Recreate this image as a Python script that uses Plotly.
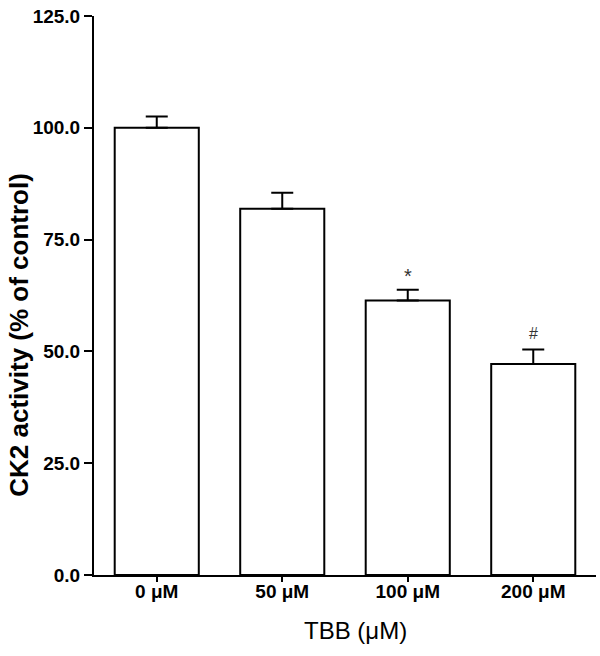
import plotly.graph_objects as go

categories = ["0 μM", "50 μM", "100 μM", "200 μM"]
means = [100.0, 81.9, 61.4, 47.2]
errors = [2.5, 3.6, 2.4, 3.2]
marks = ["", "", "*", "#"]
mark_sizes = [0, 0, 20, 16]
mark_shifts = [0, 0, 1, 6]
y_ticks = [0, 25, 50, 75, 100, 125]

fig = go.Figure()
fig.add_trace(go.Bar(
    x=categories, y=means,
    marker=dict(color="white", line=dict(color="black", width=2)),
    width=0.67,
    error_y=dict(type="data", array=errors, arrayminus=[0]*len(errors),
                 symmetric=False, color="black", thickness=2, width=11),
    showlegend=False,
))

for c, m, e, s, fs, sh in zip(categories, means, errors, marks, mark_sizes, mark_shifts):
    if s:
        fig.add_annotation(x=c, y=m + e, text=s, showarrow=False,
                           yanchor="bottom", yshift=sh,
                           font=dict(family="Arial", size=fs, color="#333"))

fig.add_annotation(text="<b>CK2 activity (% of control)</b>", textangle=-90,
                   xref="paper", yref="paper", x=-0.1500, y=0.4293,
                   xanchor="center", yanchor="middle", showarrow=False,
                   font=dict(family="Arial", size=26, color="black"))
fig.add_annotation(text="TBB (μM)",
                   xref="paper", yref="paper", x=0.52, y=-0.0993,
                   xanchor="center", yanchor="middle", showarrow=False,
                   font=dict(family="Arial", size=24, color="black"))

fig.update_layout(
    width=600, height=656,
    margin=dict(l=94, r=4, t=16, b=81),
    plot_bgcolor="white", paper_bgcolor="white",
    font=dict(family="Arial", color="black"),
    bargap=0.33,
)
fig.update_yaxes(
    range=[0, 125], tickvals=y_ticks, ticktext=[f"<b>{v:.1f}</b>" for v in y_ticks],
    showline=True, linecolor="black", linewidth=2,
    ticks="outside", ticklen=8, tickwidth=2, tickcolor="black",
    showgrid=False, zeroline=False, automargin=False,
    ticklabeloverflow="allow",
    tickfont=dict(family="Arial", size=19, color="black"),
)
fig.update_xaxes(
    showline=True, linecolor="black", linewidth=2,
    ticks="outside", ticklen=5, tickwidth=2, tickcolor="black",
    showgrid=False, automargin=False, ticklabelstandoff=-7,
    tickvals=categories, ticktext=[f"<b>{c}</b>" for c in categories],
    tickfont=dict(family="Arial", size=19, color="black"),
)

fig.write_html("out.html", config={"displayModeBar": False},
               post_script="document.body.style.margin='0';")
